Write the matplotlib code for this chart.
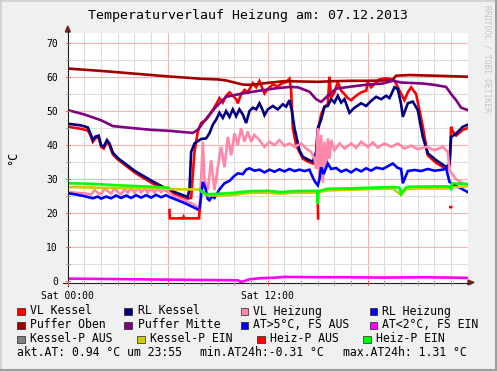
import numpy as np
import matplotlib
matplotlib.use('Agg')
import matplotlib.pyplot as plt
from matplotlib.lines import Line2D
from matplotlib.patches import Rectangle, Polygon

plt.rcParams['font.family'] = ['DejaVu Sans Mono']
nan = np.nan

W, H = 497, 371

# ---- data (hours since 00:00, degC) ----
vl_kessel_t = [0, 0.8, 1.2, 1.35, 1.5, 1.65, 1.85, 2.0, 2.15, 2.35, 2.5, 2.7, 3.0, 4.0, 5.0, 6.0, 6.8, 7.2, 7.4,
               7.6, 7.8, 8.0, 8.3, 8.6, 8.9, 9.1, 9.3, 9.5, 9.7, 9.9, 10.1, 10.2, 10.4, 10.6, 10.8, 11.1, 11.3, 11.5,
               11.6, 11.8, 12.0, 12.3, 12.6, 12.9, 13.1, 13.3, 13.4, 13.5, 13.7, 13.9, 14.1, 14.4, 14.7, 14.9, 15.0,
               15.2, 15.4, 15.6, 15.7, 15.8, 16.0, 16.2, 16.4, 16.6, 16.8, 17.0, 17.3, 17.6, 17.9, 18.0, 18.2, 18.4,
               18.7, 19.0, 19.3, 19.6, 19.9, 20.2, 20.4, 20.6, 20.9, 21.3, 21.6, 22.1, 22.7, 22.9, 23.0, 23.1, 23.3,
               23.7, 24]
vl_kessel_v = [45.4, 44.8, 44.3, 43, 41, 42, 42.3, 39.5, 39, 41, 40, 37.3, 35.8, 32.0, 29.0, 26.4, 25.0, 24.3, 24.5,
               38, 44, 46.5, 47.5, 49.5, 52, 53.8, 52.5, 54.5, 55.5, 54.5, 53.5, 52.3, 55, 56.2, 55.5, 58.2, 57, 58.8,
               57.5, 55.2, 56.5, 57.8, 57.3, 58.3, 58.5, 59.5, 56, 45, 40, 38, 36, 35.2, 34.6, 37, 44,
               49, 51.3, 52, 60.1, 54, 55.5, 58.5, 56, 55, 53.8, 53.2, 54.5, 55.5, 56.0, 58.5, 57, 58,
               59.3, 59.6, 59.5, 59, 56, 53.2, 55.5, 57, 55, 45.4, 37, 34.8, 33, 34, 45.4, 44, 42.8,
               44.5, 45]

rl_kessel_t = [0, 0.8, 1.2, 1.35, 1.5, 1.65, 1.85, 2.0, 2.15, 2.35, 2.5, 2.7, 3.0, 4.0, 5.0, 6.0, 6.8, 7.2, 7.3, 7.4,
               7.6, 8.0, 8.3, 8.5, 8.7, 8.9, 9.1, 9.3, 9.5, 9.7, 9.9, 10.1, 10.3, 10.5, 10.7, 10.9, 11.1, 11.3, 11.5,
               11.7, 11.8, 12.0, 12.3, 12.6, 12.9, 13.1, 13.3, 13.45, 13.6, 13.9, 14.1, 14.4, 14.7, 14.9, 15.0, 15.2,
               15.4, 15.6, 15.8, 16.0, 16.2, 16.4, 16.6, 16.9, 17.2, 17.6, 17.9, 18.2, 18.5, 18.8, 19.1, 19.3, 19.6,
               19.8, 20.0, 20.1, 20.4, 20.7, 21.0, 21.3, 21.6, 22.1, 22.7, 22.9, 23.0, 23.3, 23.7, 24]
rl_kessel_v = [46.3, 45.8, 45.2, 43.5, 41.5, 42.5, 42.8, 40.0, 39.5, 41.5, 40.5, 37.8, 36.2, 32.5, 29.6, 27.0, 25.5,
               24.8, 27, 38, 40.5, 41.8, 42, 43.5, 46, 47.5, 49.5, 48, 50, 48.3, 50.5, 48.5, 50.5, 49, 46.5, 50.0, 51,
               50.5, 52.3, 50.2, 48.8, 50.5, 51.5, 50.5, 52, 51.3, 53.2, 50, 45, 38.5, 36.6, 35.8, 35.1, 38, 45, 47.5,
               51.3, 51.5, 53.5, 52.5, 54.5, 52.5, 53.5, 49.5, 51, 52.3, 51.5, 53, 54.2, 53.5, 54.5, 53.8, 57.0,
               56.5, 52, 48.3, 52.3, 52.8, 50.3, 42.4, 37.6, 35.6, 33.6, 34.5, 42.4, 43.4, 45.4, 46]

vl_heiz_t = [0, 0.5, 1.0, 1.4, 1.6, 1.8, 2.0, 2.2, 2.4, 2.6, 2.8, 3.0, 3.2, 3.4, 3.6, 3.8, 4.0, 4.2, 4.4, 4.6, 4.8,
             5.0, 5.2, 5.4, 5.6, 5.8, 6.0, 6.3, 7.0, 7.5, 7.9, 8.0, 8.1, 8.2, 8.4, 8.6, 8.8, 9.0, 9.2, 9.4, 9.6,
             9.8, 10.0, 10.2, 10.4, 10.6, 10.8, 11.0, 11.2, 11.5, 11.8, 12.1, 12.4, 12.7, 13.0, 13.3, 13.6, 14.0,
             14.3, 14.6, 14.8, 14.9, 15.0, 15.1, 15.2, 15.3, 15.4, 15.5, 15.6, 15.7, 15.8, 16.0, 16.3, 16.6, 17.0,
             17.3, 17.6, 18.0, 18.3, 18.6, 19.0, 19.4, 19.8, 20.2, 20.6, 21.0, 21.5, 22.0, 22.5, 22.8, 22.9, 23.3,
             23.7, 24]
vl_heiz_v = [26.3, 26, 25.8, 25.5, 26.8, 26, 25.6, 27.3, 26.5, 25.8, 27.4, 26.2, 25.6, 27.0, 26, 27.4, 26, 27.4,
             26.1, 27.2, 26, 27.3, 26, 27.2, 26.2, 27.0, 26.5, 25.2, 23.8, 22.7, 21.5, 30, 41, 30, 26.8, 35.6, 26.8,
             33.5, 39.5, 33.5, 42.4, 37, 43.5, 40, 45, 41, 44, 41, 43, 41.5, 39.5, 41.0, 40, 41.5, 39.8, 40.5, 39.5,
             40.5, 39.0, 38, 36, 33, 45, 30, 43, 29, 41, 33, 42, 36, 41.5, 38.5, 40.5, 39, 40.5, 39.2, 41, 39.5,
             40.8, 39.3, 40.5, 39.5, 40.5, 39, 39.8, 38.8, 39.5, 38.5, 39.5, 38, 32.6, 30.0, 28.8, 28.2]

rl_heiz_t = [0, 0.5, 1.0, 1.5, 1.8, 2.0, 2.3, 2.6, 2.9, 3.2, 3.5, 3.8, 4.1, 4.4, 4.7, 5.0, 5.3, 5.6, 5.9, 6.1, 7.0,
             7.9, 8.0, 8.1, 8.25, 8.4, 8.5, 8.65, 8.8, 9.1, 9.4, 9.7, 10.0, 10.2, 10.5, 10.7, 10.9, 11.2, 11.5,
             11.8, 12.1, 12.4, 12.7, 13.0, 13.3, 13.6, 13.9, 14.2, 14.5, 14.6, 14.8, 15.0, 15.1, 15.2, 15.35, 15.6,
             15.8, 16.1, 16.4, 16.7, 17.0, 17.3, 17.6, 17.9, 18.2, 18.5, 18.9, 19.2, 19.5, 19.8, 20.0, 20.1, 20.4,
             20.8, 21.2, 21.6, 22.0, 22.5, 22.7, 22.9, 23.3, 23.7, 24]
rl_heiz_v = [25.9, 25.5, 25.0, 24.4, 24.9, 24.3, 24.9, 24.4, 25.2, 24.5, 25.2, 24.5, 25.3, 24.6, 25.3, 24.6, 25.4,
             24.7, 25.3, 24.8, 23.0, 20.9, 25, 29.2, 27.5, 24.2, 23.8, 25, 24.5, 27, 28.8, 29.5, 31, 31.7, 31.5,
             32.8, 33.2, 32.5, 32.8, 32.0, 32.8, 32.2, 32.9, 32.3, 33.0, 32.4, 32.8, 32.4, 32.8, 31.6, 29.5, 28.2,
             30, 33.5, 31.5, 34.6, 33.0, 33.3, 32.2, 32.8, 32.0, 33.0, 32.3, 33.2, 32.5, 33.4, 33.0, 33.8, 34.6,
             33.3, 33.0, 28.8, 32.4, 32.7, 32.4, 33.0, 32.5, 32.8, 33.2, 29.2, 28, 27.0, 26.2]

puffer_oben_t = [0, 2, 4, 6, 8, 9, 9.5, 10, 10.5, 11, 12, 13, 14, 15, 16, 17, 18, 19, 19.5, 19.7, 20.5, 22, 24]
puffer_oben_v = [62.5, 61.8, 61.0, 60.2, 59.5, 59.3, 59.0, 58.4, 57.8, 57.7, 58.3, 58.8, 58.7, 58.6, 58.8, 58.9,
                 58.9, 59.0, 59.3, 60.4, 60.6, 60.4, 60.1]

puffer_mitte_t = [0, 1, 2, 2.7, 3.5, 5, 6.1, 7.5, 7.8, 8.1, 8.5, 8.9, 9.5, 10.5, 11.5, 12.5, 13.3, 13.8, 14.5, 14.9,
                  15.2, 15.6, 16.1, 17, 18, 18.9, 19.5, 20, 21.3, 22, 22.7, 23.0, 23.3, 23.6, 24]
puffer_mitte_v = [50.3, 49.0, 47.3, 45.6, 45.2, 44.5, 44.2, 43.6, 44.5, 46.5, 49, 51.3, 54.2, 55.2, 56.0, 56.7, 57.1,
                  57.0, 55.7, 53.5, 52.7, 54.5, 56.6, 57.2, 57.8, 58.1, 58.9, 58.4, 58.1, 57.7, 57.1, 55.0, 53.2,
                  51.0, 50.3]

at_kalt_t = [0, 2, 4, 6, 8, 9.5, 10.2, 10.4, 10.6, 10.9, 11.5, 12.5, 13, 15, 17, 19, 21, 23, 24]
at_kalt_v = [0.8, 0.7, 0.6, 0.5, 0.4, 0.35, 0.3, -0.2, 0.1, 0.6, 0.9, 1.1, 1.3, 1.2, 1.2, 1.1, 1.2, 1.1, 1.0]

kessel_p_ein_t = [0, 2, 4, 6.1, 7.0, 7.9, 8.0, 8.3, 9, 10, 10.5, 11, 12, 12.8, 13.5, 14.9, 15.6, 17, 18.9, 19.5,
                  20.0, 20.3, 21, 22.7, 23.0, 24]
kessel_p_ein_v = [27.7, 27.5, 27.3, 27.1, 27.0, 27.0, 26.5, 25.3, 25.2, 25.4, 25.8, 26.0, 26.0, 25.7, 26.0, 26.1,
                  26.7, 26.9, 27.2, 27.2, 25.4, 27.1, 27.3, 27.3, 27.6, 27.9]

heiz_p_ein_t = [0, 1, 2, 3, 4, 5, 6.05, 6.1, 7.95, 8.3, 9, 10, 10.5, 11, 12, 12.8, 13.5, 14.95, 15.0, 15.05, 15.6,
                17, 18.9, 19.5, 19.9, 20.0, 20.3, 20.5, 22.7, 22.9, 23.0, 23.05, 24]
heiz_p_ein_v = [28.8, 28.7, 28.5, 28.2, 28.0, 27.8, 27.5, nan, 26.7, 25.6, 25.7, 26.0, 26.3, 26.5, 26.6, 26.2, 26.5,
                26.6, 22.8, 26.5, 27.2, 27.3, 27.6, 27.7, 27.5, 25.7, 27.6, 27.8, 27.9, 27.8, 26.8, 28.8, 28.6]

heiz_p_aus_t = [6.1, 6.12, 6.9, 6.95, 7.0, 7.88, 7.9, 8.0, 15.0, 15.02, 15.1, 22.95, 23.0]
heiz_p_aus_v = [20.9, 18.5, 18.5, 19.0, 18.5, 18.5, 20.9, nan, 22.3, 18.5, nan, 21.8, 21.8]

labels = ['VL Kessel', 'RL Kessel', 'VL Heizung', 'RL Heizung',
          'Puffer Oben', 'Puffer Mitte', 'AT>5°C, FS AUS', 'AT<2°C, FS EIN',
          'Kessel-P AUS', 'Kessel-P EIN', 'Heiz-P AUS', 'Heiz-P EIN']
colors = ['#FF0000', '#000080', '#FF88AA', '#0000FF',
          '#A00000', '#800080', '#0000FF', '#FF00FF',
          '#808080', '#CCCC00', '#FF0000', '#00FF00']

series = [
    (vl_kessel_t, vl_kessel_v, 0),
    (rl_kessel_t, rl_kessel_v, 1),
    (vl_heiz_t, vl_heiz_v, 2),
    (rl_heiz_t, rl_heiz_v, 3),
    (puffer_oben_t, puffer_oben_v, 4),
    (puffer_mitte_t, puffer_mitte_v, 5),
    (at_kalt_t, at_kalt_v, 7),
    (kessel_p_ein_t, kessel_p_ein_v, 9),
    (heiz_p_aus_t, heiz_p_aus_v, 10),
    (heiz_p_ein_t, heiz_p_ein_v, 11),
]


def fx(px):
    return px / W


def fy(py):
    return 1 - py / H


fig = plt.figure(figsize=(W / 100, H / 100), dpi=100, facecolor='#F0F0F0')

x0, x1 = 67.8, 467.8
ytop, ybot = 33.0, 282.5
ax = fig.add_axes([fx(x0), fy(ybot), (x1 - x0) / W, (ybot - ytop) / H])
ax.set_facecolor('white')
ax.set_xlim(0, 24)
ax.set_ylim(-0.34, 72.94)

# grid
for h in range(1, 24):
    c = '#F5B5B5' if h % 6 == 0 else '#DDDDDD'
    ax.axvline(h, color=c, lw=0.8, zorder=0)
for v in range(5, 75, 5):
    if v > 72:
        break
    c = '#F5B5B5' if v % 10 == 0 else '#DDDDDD'
    ax.axhline(v, color=c, lw=0.8, zorder=0)

for t, v, i in series:
    ax.plot(t, v, color=colors[i], lw=1.9, solid_joinstyle='miter', zorder=2)

for s in ax.spines.values():
    s.set_visible(False)
ax.set_xticks([0, 12])
ax.set_xticklabels(['Sat 00:00', 'Sat 12:00'])
ax.set_yticks(range(0, 71, 10))
ax.tick_params(axis='both', length=0, labelsize=7, colors='#000000')
ax.tick_params(axis='y', pad=7)
ax.tick_params(axis='x', pad=6)

# axes lines with arrows
axis_col = '#1F1F1F'
arrow_col = '#7F1F1F'
fig.add_artist(Line2D([fx(63), fx(470)], [fy(ybot), fy(ybot)], color=axis_col, lw=0.8))
fig.add_artist(Line2D([fx(x0), fx(x0)], [fy(286), fy(30)], color=axis_col, lw=0.8))
fig.add_artist(Polygon([[fx(x0), fy(26)], [fx(x0 - 2.5), fy(32)], [fx(x0 + 2.5), fy(32)]],
                       closed=True, color=arrow_col, transform=fig.transFigure))
fig.add_artist(Polygon([[fx(474), fy(ybot)], [fx(468), fy(ybot - 2.5)], [fx(468), fy(ybot + 2.5)]],
                       closed=True, color=arrow_col, transform=fig.transFigure))
# small ticks on axes
for h in range(0, 24):
    c = '#E06060' if h % 6 == 0 else '#A0A0A0'
    px = x0 + h * 400 / 24
    fig.add_artist(Line2D([fx(px), fx(px)], [fy(ybot - 2), fy(ybot + 2)], color=c, lw=0.7))
for v in range(0, 71, 5):
    c = '#E06060' if v % 10 == 0 else '#A0A0A0'
    py = 281.35 - v * 3.405
    fig.add_artist(Line2D([fx(x0 - 2), fx(x0 + 2)], [fy(py), fy(py)], color=c, lw=0.7))

# titles
fig.text(0.5, fy(16), 'Temperaturverlauf Heizung am: 07.12.2013', ha='center', va='center', fontsize=9.5)
fig.text(fx(13), fy(158), '°C', rotation=90, ha='center', va='center', fontsize=8.5)
fig.text(fx(487), fy(5), 'RRDTOOL / TOBI OETIKER', rotation=-90, ha='center', va='top',
         fontsize=5.8, color='#C4C4C4')

# legend
sq_x = [[17, 124.5, 240.5, 369.5], [17, 124.5, 240.5, 369.5], [17, 137, 257, 363]]
tx_x = [[30, 138, 253, 382], [30, 138, 253, 382], [30, 150, 270, 376]]
rows_y = [311, 325, 339]
for r in range(3):
    for c in range(4):
        k = r * 4 + c
        fig.add_artist(Rectangle((fx(sq_x[r][c]), fy(rows_y[r] + 4)), 7.5 / W, 7.5 / H,
                                 facecolor=colors[k], edgecolor='#222222', lw=0.5,
                                 transform=fig.transFigure))
        fig.text(fx(tx_x[r][c]), fy(rows_y[r]), labels[k], ha='left', va='center', fontsize=8.3)

fig.text(fx(17), fy(353), 'akt.AT: 0.94 °C um 23:55', ha='left', va='center', fontsize=8.3)
fig.text(fx(200), fy(353), 'min.AT24h:-0.31 °C', ha='left', va='center', fontsize=8.3)
fig.text(fx(343), fy(353), 'max.AT24h: 1.31 °C', ha='left', va='center', fontsize=8.3)

# frame shading
fig.add_artist(Line2D([0, 1], [fy(0.7), fy(0.7)], color='#CFCFCF', lw=1.2))
fig.add_artist(Line2D([fx(0.7), fx(0.7)], [0, 1], color='#CFCFCF', lw=1.2))
fig.add_artist(Line2D([0, 1], [fy(370), fy(370)], color='#9E9E9E', lw=1.5))
fig.add_artist(Line2D([fx(495.5), fx(495.5)], [0, 1], color='#9E9E9E', lw=2.2))

fig.savefig('out.png', dpi=100, facecolor=fig.get_facecolor())
